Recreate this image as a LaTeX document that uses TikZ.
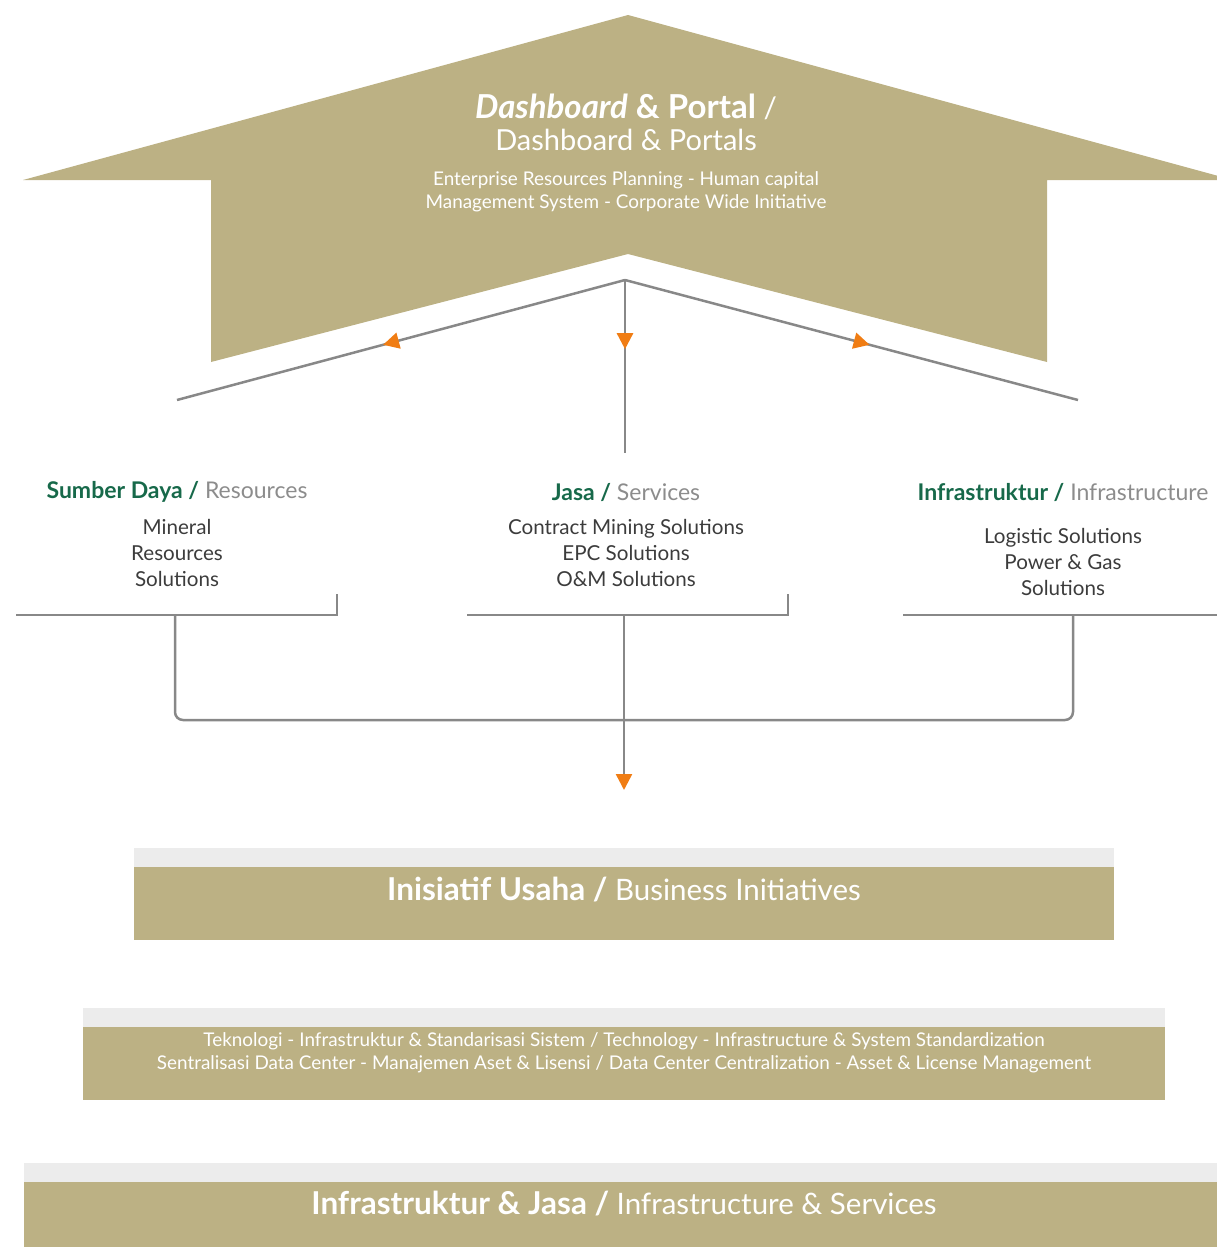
\documentclass[tikz,border=0pt]{standalone}
\usepackage{fontspec}
\setmainfont{Lato}
\usetikzlibrary{arrows.meta,decorations.markings}
\definecolor{tan}{HTML}{BCB184}
\definecolor{strip}{HTML}{ECECEC}
\definecolor{lnk}{HTML}{888888}
\definecolor{org}{HTML}{F07D14}
\definecolor{grn}{HTML}{17694A}
\definecolor{txt}{HTML}{3C3C3C}
\definecolor{lgt}{HTML}{8C8C8C}
\begin{document}
\begin{tikzpicture}[x=1pt,y=-1pt,
  conn/.style={draw=lnk,line width=2.5pt},
  otip/.style={-{Triangle[length=16pt,width=16pt,color=org]}},
  midarrow/.style={postaction={decorate},decoration={markings,mark=at position #1 with {\arrow{Triangle[length=16pt,width=16pt,color=org]}}}},
  coltitle/.style={inner sep=0pt,font=\fontsize{23}{27}\selectfont},
  colitems/.style={inner sep=0pt,align=center,text=txt,font=\fontsize{20.6}{26}\selectfont},
  bigtxt/.style={inner sep=0pt,text=white,font=\fontsize{29.5}{34}\selectfont},
  smalltxt/.style={inner sep=0pt,align=center,text=white,font=\fontsize{18.9}{23.5}\selectfont}
]
\useasboundingbox (0,0) rectangle (1217,1247);
\begin{scope}
\clip (0,0) rectangle (1217,1247);
% roof shape
\fill[tan] (628,15) -- (1233,180) -- (1047,180) -- (1047,362) -- (628,254) -- (211,362) -- (211,180) -- (23,180) -- cycle;
% bands
\fill[strip] (134,848) rectangle (1114,867);
\fill[tan] (134,867) rectangle (1114,940);
\fill[strip] (83,1008) rectangle (1165,1027);
\fill[tan] (83,1027) rectangle (1165,1100);
\fill[strip] (24,1163) rectangle (1230,1182);
\fill[tan] (24,1182) rectangle (1230,1260);
\end{scope}

% header texts
\node[bigtxt] (dtitle) at (626,107) {{\fontsize{33}{34}\selectfont\textbf{\textit{Dashboard} \& Portal}} /};
\node[bigtxt,font=\fontsize{29}{34}\selectfont] (dsub) at (626,140) {Dashboard \& Portals};
\node[smalltxt] (ddesc) at (626,192) {Enterprise Resources Planning - Human capital\\Management System - Corporate Wide Initiative};

% distribution lines
\coordinate (apex) at (625,280);
\coordinate (lend) at (177,400);
\coordinate (rend) at (1078,400);
\coordinate (mend) at (625,453);
\draw[conn,midarrow=0.54] (apex) -- (lend);
\draw[conn,midarrow=0.54] (apex) -- (rend);
\draw[conn,midarrow=0.40] (apex) -- (mend);

% column titles and items
\node[coltitle] (res) at (177,492) {\textcolor{grn}{\textbf{Sumber Daya /}} \textcolor{lgt}{Resources}};
\node[colitems] (resi) at (177,553) {Mineral\\Resources\\Solutions};
\node[coltitle] (svc) at (626,492) {\textcolor{grn}{\textbf{Jasa /}} \textcolor{lgt}{Services}};
\node[colitems] (svci) at (626,553) {Contract Mining Solutions\\EPC Solutions\\O\&M Solutions};
\node[coltitle] (inf) at (1063,492) {\textcolor{grn}{\textbf{Infrastruktur /}} \textcolor{lgt}{Infrastructure}};
\node[colitems] (infi) at (1063,562) {Logistic Solutions\\Power \& Gas\\Solutions};

% brackets
\coordinate (b1a) at (16,615); \coordinate (b1b) at (337,615); \coordinate (b1c) at (337,594);
\coordinate (b2a) at (467,615); \coordinate (b2b) at (788,615); \coordinate (b2c) at (788,594);
\coordinate (b3a) at (903,615); \coordinate (b3b) at (1217,615);
\draw[conn] (b1a) -- (b1b) -- (b1c);
\draw[conn] (b2a) -- (b2b) -- (b2c);
\draw[conn] (b3a) -- (b3b);

% collector
\coordinate (c1) at (175,615); \coordinate (c1d) at (175,720);
\coordinate (c3) at (1073,615); \coordinate (c3d) at (1073,720);
\coordinate (c2) at (624,615); \coordinate (c2d) at (624,790);
\draw[conn,rounded corners=8pt] (c1) -- (c1d) -- (c3d) -- (c3);
\draw[conn,otip] (c2) -- (c2d);

% band texts
\node[bigtxt] (biz) at (624,890) {{\fontsize{31.5}{34}\selectfont\textbf{Inisiatif Usaha /}} Business Initiatives};
\node[smalltxt] (tech) at (624,1053) {Teknologi - Infrastruktur \& Standarisasi Sistem / Technology - Infrastructure \& System Standardization\\Sentralisasi Data Center - Manajemen Aset \& Lisensi / Data Center Centralization - Asset \& License Management};
\node[bigtxt] (infjasa) at (624,1204) {{\fontsize{31.5}{34}\selectfont\textbf{Infrastruktur \& Jasa /}} Infrastructure \& Services};
\end{tikzpicture}
\end{document}
